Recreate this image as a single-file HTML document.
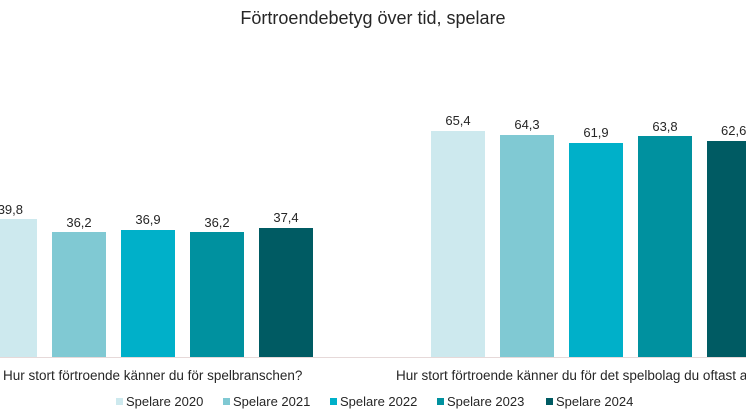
<!DOCTYPE html>
<html><head><meta charset="utf-8"><style>
body{margin:0;width:746px;height:419px;background:#fff;overflow:hidden;font-family:"Liberation Sans",sans-serif;position:relative}
.t{position:absolute;white-space:nowrap;color:#262626}
.b{position:absolute;bottom:62px;width:54px}
.v{position:absolute;width:70px;text-align:center;font-size:13px;color:#262626}
.c{position:absolute;overflow:hidden;height:18px;font-size:13px;color:#262626}
.c span{position:absolute;top:0;white-space:nowrap}
.lg{position:absolute;top:394px;font-size:13px;color:#262626;white-space:nowrap}
.lg i{display:inline-block;width:7px;height:7px;margin-right:3px;vertical-align:1px}
</style></head><body>
<div class="t" style="left:0;width:746px;text-align:center;top:8px;font-size:18px">Förtroendebetyg över tid, spelare</div>
<div style="position:absolute;left:0;top:357px;width:746px;height:1px;background:#e6d9d9"></div>
<div class="b" style="left:0;width:37px;height:138px;background:#cde9ee"></div>
<div class="b" style="left:52px;height:125px;background:#80c9d3"></div>
<div class="b" style="left:121px;height:127px;background:#00b0c9"></div>
<div class="b" style="left:190px;height:125px;background:#00919f"></div>
<div class="b" style="left:259px;height:129px;background:#005b63"></div>
<div class="b" style="left:431px;height:226px;background:#cde9ee"></div>
<div class="b" style="left:500px;height:222px;background:#80c9d3"></div>
<div class="b" style="left:569px;height:214px;background:#00b0c9"></div>
<div class="b" style="left:638px;height:221px;background:#00919f"></div>
<div class="b" style="left:707px;width:39px;height:216px;background:#005b63"></div>
<div class="c" style="left:0;top:202px;width:23px"><span style="right:0">39,8</span></div>
<div class="v" style="left:44px;top:215px">36,2</div>
<div class="v" style="left:113px;top:212px">36,9</div>
<div class="v" style="left:182px;top:215px">36,2</div>
<div class="v" style="left:251px;top:210px">37,4</div>
<div class="v" style="left:423px;top:113px">65,4</div>
<div class="v" style="left:492px;top:117px">64,3</div>
<div class="v" style="left:561px;top:125px">61,9</div>
<div class="v" style="left:630px;top:119px">63,8</div>
<div class="c" style="left:721px;top:123px;width:25px"><span style="left:0">62,6</span></div>
<div class="t" style="left:3px;top:368px;font-size:13.5px">Hur stort förtroende känner du för spelbranschen?</div>
<div class="c" style="left:396px;top:368px;width:350px;font-size:13.5px"><span style="left:0">Hur stort förtroende känner du för det spelbolag du oftast anlitar?</span></div>
<div class="lg" style="left:116px"><i style="background:#cde9ee"></i>Spelare 2020</div>
<div class="lg" style="left:223px"><i style="background:#80c9d3"></i>Spelare 2021</div>
<div class="lg" style="left:330px"><i style="background:#00b0c9"></i>Spelare 2022</div>
<div class="lg" style="left:437px"><i style="background:#00919f"></i>Spelare 2023</div>
<div class="lg" style="left:546px"><i style="background:#005b63"></i>Spelare 2024</div>
</body></html>
